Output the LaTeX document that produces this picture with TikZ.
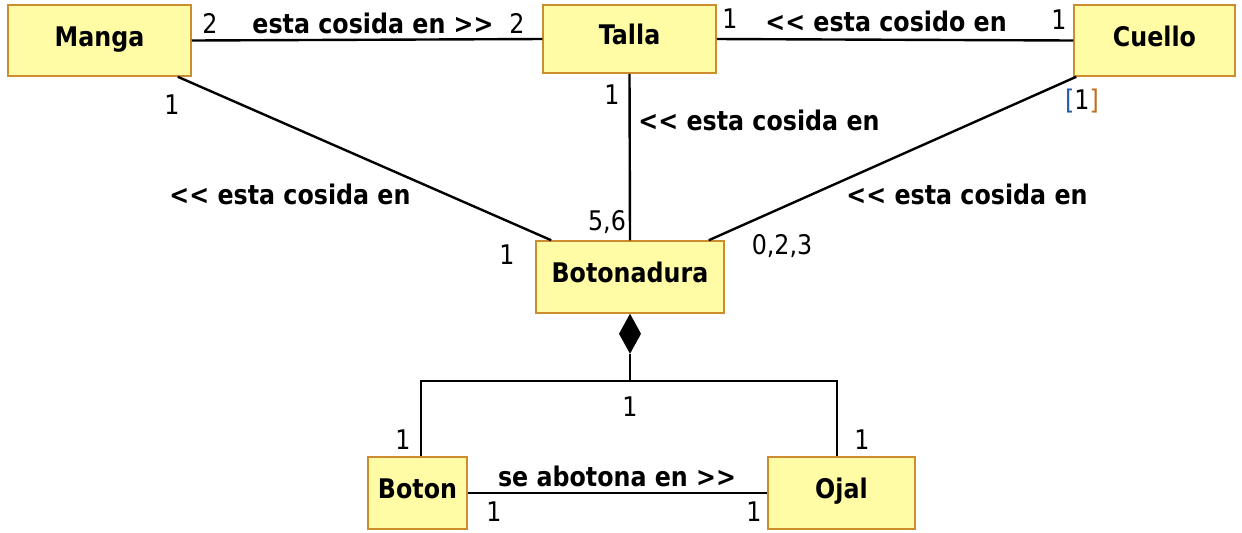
\documentclass[tikz,border=0pt]{standalone}
\usepackage{fontspec}
\setsansfont{DejaVu Sans}[FakeStretch=0.88]
\usetikzlibrary{positioning, calc}
\definecolor{classfill}{RGB}{255, 252, 165}
\definecolor{classdraw}{RGB}{205, 140, 45}
\definecolor{markblue}{RGB}{40, 90, 170}
\definecolor{markorange}{RGB}{190, 110, 30}
\newcommand{\dgt}{>\kern0pt>}
\newcommand{\dlt}{<\kern0pt<}

\begin{document}
\begin{tikzpicture}[x=0.5pt, y=-0.5pt,
  font=\sffamily\fontsize{13.5}{16}\selectfont,
  classbox/.style={draw=classdraw, fill=classfill, line width=0.75pt, inner sep=0pt,
    text height=9.85pt, text depth=4pt,
    font=\sffamily\bfseries\fontsize{13.5}{16}\selectfont},
  assoc/.style={line width=1.2pt},
  role/.style={inner sep=0pt, font=\sffamily\bfseries\fontsize{13.5}{16}\selectfont},
  mult/.style={inner sep=0pt}]
  \useasboundingbox (0,0) rectangle (1242,532);

  % Classes
  \node[classbox, minimum width=91.5pt, minimum height=35.5pt] (manga) at (99.5,40.5) {Manga};
  \node[classbox, minimum width=86.5pt, minimum height=34pt] (talla) at (629.5,39) {Talla};
  \node[classbox, minimum width=80.5pt, minimum height=35.5pt] (cuello) at (1154.5,40.5) {Cuello};
  \node[classbox, minimum width=94pt, minimum height=36pt] (botonadura) at (630,277) {Botonadura};
  \node[classbox, minimum width=49.5pt, minimum height=36pt] (boton) at (417.5,493) {Boton};
  \node[classbox, minimum width=73.5pt, minimum height=36pt] (ojal) at (841.5,493) {Ojal};

  % Associations
  \draw[assoc] (manga.east) -- (talla.west);
  \draw[assoc] (talla.east) -- (cuello.west);
  \draw[assoc] ([xshift=-7pt]manga.south east) -- ([xshift=8pt]botonadura.north west);
  \draw[assoc] (talla.south) -- (botonadura.north);
  \draw[assoc] ([xshift=1.5pt]cuello.south west) -- ([xshift=-8pt]botonadura.north east);
  \draw[assoc] (boton.east) -- (ojal.west);

  % Composition
  \fill (botonadura.south) -- ++(11,20) -- ++(-11,20) coordinate (diamtip) -- ++(-11,-20) -- cycle;
  \coordinate (split) at (630,381);
  \draw[assoc] (diamtip) -- (split);
  \draw[assoc] ([xshift=1.75pt]boton.north) |- (split) -| ([xshift=-2.25pt]ojal.north);

  % Role names
  \node[role] (rmanga) at (373,23) {esta cosida en \dgt};
  \node[role] (rcuello) at (886,21) {\dlt{} esta cosido en};
  \node[role] (rmangab) at (290,194) {\dlt{} esta cosida en};
  \node[role] (rtalla) at (759,120) {\dlt{} esta cosida en};
  \node[role] (rcuellob) at (967,194) {\dlt{} esta cosida en};
  \node[role] (rboton) at (617,476) {se abotona en \dgt};

  % Multiplicities
  \foreach \name/\x/\y/\txt in {m1/210/23/2, m2/517/23/2, m3/730/19/1, m4/1059/20/1,
      m5/172/105/1, m6/507/255/1, m7/612/95/1, m8/607/222/{5,6}, m10/782/246/{0,2,3},
      m11/630/407/1, m12/403/440/1, m13/862/440/1, m14/494/512/1, m15/754/512/1}{
    \node[mult] (\name) at (\x,\y) {\txt};
  }
  \node[mult] (m9) at (1082,101) {\textcolor{markblue}{[}1\textcolor{markorange}{]}};
\end{tikzpicture}
\end{document}
